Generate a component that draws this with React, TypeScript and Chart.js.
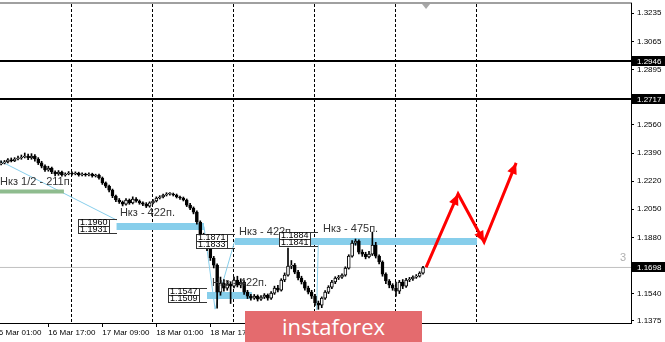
import React, { useEffect, useRef } from 'react';
import { Chart, registerables } from 'chart.js';
Chart.register(...registerables);

// ---- candle data (H1 bars, index 0 = 16 Mar 00:00) ----
const FIRST_IDX = 3;
const OPEN = [
  1.2324, 1.2330, 1.2336, 1.2348, 1.2342, 1.2354, 1.2360, 1.2366, 1.2372, 1.2360,
  1.2372, 1.2354, 1.2330, 1.2311, 1.2287, 1.2299, 1.2275, 1.2263, 1.2275, 1.2257,
  1.2263, 1.2269, 1.2263, 1.2269, 1.2257, 1.2263, 1.2257, 1.2263, 1.2251, 1.2257,
  1.2239, 1.2209, 1.2190, 1.2166, 1.2130, 1.2106, 1.2094, 1.2081, 1.2106, 1.2088,
  1.2112, 1.2100, 1.2088, 1.2081, 1.2069, 1.2088, 1.2100, 1.2118, 1.2124, 1.2136,
  1.2142, 1.2142, 1.2136, 1.2124, 1.2118, 1.2106, 1.2075, 1.2057, 1.2033, 1.1973,
  1.1894, 1.1852, 1.1815, 1.1755, 1.1712, 1.1549, 1.1604, 1.1573, 1.1597, 1.1585,
  1.1622, 1.1591, 1.1610, 1.1549, 1.1525, 1.1513, 1.1525, 1.1507, 1.1519, 1.1531,
  1.1513, 1.1543, 1.1573, 1.1561, 1.1622, 1.1652, 1.1706, 1.1712, 1.1670, 1.1634,
  1.1610, 1.1573, 1.1549, 1.1525, 1.1483, 1.1470, 1.1513, 1.1549, 1.1579, 1.1610,
  1.1634, 1.1640, 1.1652, 1.1694, 1.1767, 1.1845, 1.1858, 1.1791, 1.1779, 1.1761,
  1.1779, 1.1833, 1.1767, 1.1731, 1.1658, 1.1616, 1.1591, 1.1573, 1.1555, 1.1610,
  1.1585, 1.1622, 1.1628, 1.1640, 1.1646, 1.1664,
];
const CLOSE = [
  1.2330, 1.2336, 1.2348, 1.2342, 1.2354, 1.2360, 1.2366, 1.2372, 1.2360, 1.2372,
  1.2354, 1.2330, 1.2311, 1.2287, 1.2299, 1.2275, 1.2263, 1.2275, 1.2257, 1.2263,
  1.2269, 1.2263, 1.2269, 1.2257, 1.2263, 1.2257, 1.2263, 1.2251, 1.2257, 1.2239,
  1.2209, 1.2190, 1.2166, 1.2130, 1.2106, 1.2094, 1.2081, 1.2106, 1.2088, 1.2112,
  1.2100, 1.2088, 1.2081, 1.2069, 1.2088, 1.2100, 1.2118, 1.2124, 1.2136, 1.2142,
  1.2142, 1.2136, 1.2124, 1.2118, 1.2106, 1.2075, 1.2057, 1.2033, 1.1973, 1.1894,
  1.1852, 1.1815, 1.1755, 1.1712, 1.1549, 1.1604, 1.1573, 1.1597, 1.1585, 1.1622,
  1.1591, 1.1610, 1.1549, 1.1525, 1.1513, 1.1525, 1.1507, 1.1519, 1.1531, 1.1513,
  1.1543, 1.1573, 1.1561, 1.1622, 1.1652, 1.1706, 1.1712, 1.1670, 1.1634, 1.1610,
  1.1573, 1.1549, 1.1525, 1.1483, 1.1470, 1.1513, 1.1549, 1.1579, 1.1610, 1.1634,
  1.1640, 1.1652, 1.1694, 1.1767, 1.1845, 1.1858, 1.1791, 1.1779, 1.1761, 1.1779,
  1.1833, 1.1767, 1.1731, 1.1658, 1.1616, 1.1591, 1.1573, 1.1555, 1.1610, 1.1585,
  1.1622, 1.1628, 1.1640, 1.1646, 1.1664, 1.1698,
];
const HIGH = [
  1.2342, 1.2345, 1.2356, 1.2360, 1.2362, 1.2372, 1.2378, 1.2390, 1.2384, 1.2386,
  1.2380, 1.2362, 1.2340, 1.2318, 1.2310, 1.2305, 1.2282, 1.2284, 1.2280, 1.2270,
  1.2278, 1.2276, 1.2276, 1.2274, 1.2270, 1.2268, 1.2270, 1.2268, 1.2262, 1.2262,
  1.2245, 1.2215, 1.2196, 1.2172, 1.2136, 1.2115, 1.2100, 1.2115, 1.2112, 1.2125,
  1.2120, 1.2106, 1.2095, 1.2090, 1.2095, 1.2108, 1.2125, 1.2132, 1.2142, 1.2150,
  1.2150, 1.2148, 1.2142, 1.2130, 1.2124, 1.2112, 1.2085, 1.2064, 1.2040, 1.1980,
  1.1905, 1.1862, 1.1822, 1.1765, 1.1720, 1.1640, 1.1625, 1.1615, 1.1612, 1.1640,
  1.1645, 1.1630, 1.1618, 1.1560, 1.1535, 1.1535, 1.1532, 1.1528, 1.1540, 1.1538,
  1.1552, 1.1585, 1.1590, 1.1630, 1.1665, 1.1815, 1.1740, 1.1722, 1.1680, 1.1645,
  1.1618, 1.1585, 1.1560, 1.1535, 1.1495, 1.1520, 1.1558, 1.1588, 1.1620, 1.1642,
  1.1650, 1.1660, 1.1702, 1.1775, 1.1860, 1.1870, 1.1865, 1.1805, 1.1790, 1.1795,
  1.1912, 1.1850, 1.1775, 1.1738, 1.1665, 1.1625, 1.1600, 1.1610, 1.1620, 1.1625,
  1.1632, 1.1638, 1.1648, 1.1655, 1.1672, 1.1705,
];
const LOW = [
  1.2318, 1.2324, 1.2330, 1.2336, 1.2338, 1.2348, 1.2352, 1.2360, 1.2350, 1.2352,
  1.2340, 1.2320, 1.2300, 1.2278, 1.2280, 1.2265, 1.2252, 1.2255, 1.2250, 1.2250,
  1.2258, 1.2256, 1.2258, 1.2250, 1.2252, 1.2250, 1.2252, 1.2244, 1.2245, 1.2232,
  1.2200, 1.2180, 1.2155, 1.2120, 1.2095, 1.2085, 1.2070, 1.2075, 1.2080, 1.2082,
  1.2092, 1.2080, 1.2072, 1.2060, 1.2062, 1.2082, 1.2094, 1.2112, 1.2118, 1.2130,
  1.2135, 1.2130, 1.2118, 1.2110, 1.2100, 1.2066, 1.2048, 1.2022, 1.1960, 1.1880,
  1.1838, 1.1800, 1.1740, 1.1695, 1.1452, 1.1530, 1.1555, 1.1560, 1.1480, 1.1575,
  1.1580, 1.1575, 1.1535, 1.1510, 1.1500, 1.1505, 1.1495, 1.1498, 1.1510, 1.1500,
  1.1505, 1.1535, 1.1550, 1.1555, 1.1612, 1.1645, 1.1690, 1.1660, 1.1622, 1.1598,
  1.1560, 1.1538, 1.1510, 1.1468, 1.1445, 1.1455, 1.1505, 1.1540, 1.1570, 1.1600,
  1.1625, 1.1632, 1.1645, 1.1688, 1.1760, 1.1832, 1.1780, 1.1765, 1.1750, 1.1755,
  1.1770, 1.1755, 1.1720, 1.1645, 1.1600, 1.1575, 1.1560, 1.1525, 1.1540, 1.1570,
  1.1578, 1.1612, 1.1620, 1.1632, 1.1640, 1.1658,
];

// ---- axes ----
const X_MIN = 2.667;
const X_MAX = 189.63;
const Y_MIN = 1.13622;
const Y_MAX = 1.32969;
const Y_TICKS = [1.3235, 1.3065, 1.2895, 1.256, 1.239, 1.222, 1.205, 1.188, 1.154, 1.1375];
const TIME_TICK_IDX = [1, 17, 33, 49, 65, 81, 97, 113];
const TIME_TICK_LABELS = ['16 Mar 01:00', '16 Mar 17:00', '17 Mar 09:00', '18 Mar 01:00', '18 Mar 17:00', '19 Mar 09:00', '20 Mar 01:00', '20 Mar 17:00'];
const DAY_IDX = [24, 48, 72, 96, 120, 144];

// ---- levels & objects ----
const LEVEL_PRICES = [1.2946, 1.2717];
const LAST_PRICE = 1.1698;
const SHIFT_IDX = 128.9;

const ZONE_START = [37.2, 72.3, 64.0];
const ZONE_END = [63.1, 144.0, 77.3];
const ZONE_PRICE = [1.1946, 1.1855, 1.1528];
const HALF_ZONE_START = 2.667;
const HALF_ZONE_END = 21.6;
const HALF_ZONE_PRICE = 1.2157;

const LABEL_TEXT = ['Нкз 1/2 - 211п.', 'Нкз - 422п.', 'Нкз - 422п.', 'Нкз - 475п.', 'Нкз - 422п.'];
const LABEL_IDX = [2.7, 38.2, 73.5, 98.4, 65.5];
const LABEL_PRICE = [1.2215, 1.2027, 1.1914, 1.193, 1.1602];

const BOX_ANCHOR = [37.2, 72.3, 96.9, 64.0];
const BOX_HI = [1.196, 1.1871, 1.1884, 1.1547];
const BOX_LO = [1.1931, 1.1833, 1.1841, 1.1509];

const THIN1_IDX = [2.667, 37.2];
const THIN1_PRICE = [1.2342, 1.1985];
const THIN2_IDX = [63.1, 66.4, 72.3];
const THIN2_PRICE = [1.1946, 1.1446, 1.1864];
const THIN3_IDX = [96.5, 97.0];
const THIN3_PRICE = [1.144, 1.1858];

const ARROW_IDX = [128.9, 138.4, 146.1, 155.6];
const ARROW_PRICE = [1.1698, 1.2142, 1.1852, 1.233];

const FONT = '"Liberation Sans", Arial, sans-serif';
const ZONE_COLOR = '#87ceeb';

export default function App() {
  const ref = useRef<HTMLCanvasElement | null>(null);

  useEffect(() => {
    const canvas = ref.current;
    if (!canvas) return;

    const wick = CLOSE.map((_, i) => ({ x: FIRST_IDX + i, y: [LOW[i], HIGH[i]] }));
    const body = CLOSE.map((c, i) => ({ x: FIRST_IDX + i, y: [OPEN[i], c] }));
    const bodyColors = CLOSE.map((c, i) => (c >= OPEN[i] ? '#ffffff' : '#000000'));

    const pts = (xs: number[], ys: number[]) => xs.map((x, i) => ({ x, y: ys[i] }));
    const lineDs = (data: any[], color: string, width: number, order: number) => ({
      type: 'line' as const,
      data,
      borderColor: color,
      borderWidth: width,
      pointRadius: 0,
      borderCapStyle: 'butt',
      fill: false,
      tension: 0,
      order,
    });

    const datasets: any[] = [];
    LEVEL_PRICES.forEach((p) => datasets.push(lineDs(pts([X_MIN, X_MAX], [p, p]), '#000', 2, 6)));
    datasets.push(lineDs(pts([X_MIN, X_MAX], [LAST_PRICE, LAST_PRICE]), '#c0c0c0', 1, 6));
    datasets.push(lineDs(pts(THIN1_IDX, THIN1_PRICE), ZONE_COLOR, 1, 5));
    datasets.push(lineDs(pts(THIN2_IDX, THIN2_PRICE), ZONE_COLOR, 1, 5));
    datasets.push(lineDs(pts(THIN3_IDX, THIN3_PRICE), ZONE_COLOR, 1, 5));
    datasets.push(lineDs(pts([HALF_ZONE_START, HALF_ZONE_END], [HALF_ZONE_PRICE, HALF_ZONE_PRICE]), '#8fbc8f', 4, 4));
    ZONE_PRICE.forEach((p, k) => datasets.push(lineDs(pts([ZONE_START[k], ZONE_END[k]], [p, p]), ZONE_COLOR, 7, 4)));
    datasets.push({
      type: 'bar',
      data: wick,
      backgroundColor: '#000',
      borderWidth: 0,
      barThickness: 1,
      grouped: false,
      order: 3,
    });
    datasets.push({
      type: 'bar',
      data: body,
      backgroundColor: bodyColors,
      borderColor: '#000',
      borderWidth: 1,
      borderSkipped: false,
      barThickness: 3,
      minBarLength: 1,
      grouped: false,
      order: 2,
    });
    const arrowIndex = datasets.length;
    datasets.push(lineDs(pts(ARROW_IDX, ARROW_PRICE), '#ff0000', 3, 0));

    const overlay = {
      id: 'overlay',
      afterDatasetsDraw(chart: any) {
        const { ctx, scales } = chart;
        const x = scales.x;
        const y = scales.y;
        ctx.save();
        // arrow heads
        const meta = chart.getDatasetMeta(arrowIndex);
        const ps = meta.data;
        ctx.fillStyle = '#ff0000';
        for (let i = 1; i < ps.length; i++) {
          const a = Math.atan2(ps[i].y - ps[i - 1].y, ps[i].x - ps[i - 1].x);
          const L = 11;
          const W = 5;
          const bx = ps[i].x - L * Math.cos(a);
          const by = ps[i].y - L * Math.sin(a);
          ctx.beginPath();
          ctx.moveTo(ps[i].x, ps[i].y);
          ctx.lineTo(bx - W * Math.sin(a), by + W * Math.cos(a));
          ctx.lineTo(bx + W * Math.sin(a), by - W * Math.cos(a));
          ctx.closePath();
          ctx.fill();
        }
        // zone labels
        ctx.font = `11px ${FONT}`;
        ctx.fillStyle = '#333';
        ctx.textBaseline = 'middle';
        ctx.textAlign = 'left';
        LABEL_TEXT.forEach((t, k) => {
          ctx.fillText(t, x.getPixelForValue(LABEL_IDX[k]), y.getPixelForValue(LABEL_PRICE[k]));
        });
        // price boxes
        ctx.font = `9px ${FONT}`;
        ctx.lineWidth = 1;
        BOX_ANCHOR.forEach((an, k) => {
          const ax = Math.round(x.getPixelForValue(an));
          const yh = y.getPixelForValue(BOX_HI[k]);
          const yl = y.getPixelForValue(BOX_LO[k]);
          const mid = Math.round((yh + yl) / 2 - 1);
          const right = ax - 8;
          const w = 31;
          const left = right - w;
          const top = mid - 7;
          ctx.fillStyle = '#fff';
          ctx.fillRect(left, top, w, 14);
          ctx.strokeStyle = '#333';
          ctx.strokeRect(left + 0.5, top + 0.5, w, 7);
          ctx.strokeRect(left + 0.5, top + 7.5, w, 7);
          ctx.beginPath();
          ctx.moveTo(right, top + 0.5);
          ctx.lineTo(ax, top + 0.5);
          ctx.moveTo(right, top + 14.5);
          ctx.lineTo(ax, top + 14.5);
          ctx.stroke();
          ctx.fillStyle = '#000';
          ctx.fillText(BOX_HI[k].toFixed(4), left + 2, top + 4);
          ctx.fillText(BOX_LO[k].toFixed(4), left + 2, top + 11);
        });
        ctx.restore();
      },
      afterDraw(chart: any) {
        const { ctx, scales, chartArea } = chart;
        const x = scales.x;
        const y = scales.y;
        ctx.save();
        // axis price boxes
        ctx.font = `8px ${FONT}`;
        ctx.textBaseline = 'middle';
        ctx.textAlign = 'left';
        [...LEVEL_PRICES, LAST_PRICE].forEach((p) => {
          const py = Math.round(y.getPixelForValue(p));
          ctx.fillStyle = '#000';
          ctx.fillRect(chartArea.right + 1, py - 5, 33, 10);
          ctx.fillStyle = '#fff';
          ctx.fillText(p.toFixed(4), chartArea.right + 6, py + 0.5);
        });
        // small "3"
        ctx.font = `11px ${FONT}`;
        ctx.fillStyle = '#b0b0b0';
        ctx.textAlign = 'right';
        ctx.fillText('3', chartArea.right - 5, y.getPixelForValue(LAST_PRICE) - 9);
        // shift marker
        const sx = x.getPixelForValue(SHIFT_IDX);
        ctx.fillStyle = '#a8a8a8';
        ctx.beginPath();
        ctx.moveTo(sx - 4, chartArea.top + 1);
        ctx.lineTo(sx + 4, chartArea.top + 1);
        ctx.lineTo(sx, chartArea.top + 6);
        ctx.closePath();
        ctx.fill();
        ctx.restore();
      },
    };

    const chart = new Chart(canvas, {
      type: 'bar',
      data: { datasets },
      options: {
        responsive: false,
        animation: false,
        devicePixelRatio: 1,
        layout: { padding: { left: 0, right: 0, top: 3, bottom: 0 } },
        plugins: { legend: { display: false }, tooltip: { enabled: false } },
        scales: {
          x: {
            type: 'linear',
            position: 'bottom',
            min: X_MIN,
            max: X_MAX,
            offset: false,
            afterBuildTicks: (s: any) => {
              s.ticks = TIME_TICK_IDX.map((v) => ({ value: v }));
            },
            afterFit: (s: any) => {
              s.height = 19;
              s.paddingLeft = 0;
              s.paddingRight = 0;
            },
            ticks: {
              autoSkip: false,
              maxRotation: 0,
              align: 'start',
              padding: 1,
              color: '#000',
              font: { family: FONT, size: 8 },
              callback: (v: any) => {
                const k = TIME_TICK_IDX.indexOf(Number(v));
                return k >= 0 ? TIME_TICK_LABELS[k] : '';
              },
            },
            grid: { offset: false, drawOnChartArea: false, drawTicks: true, tickLength: 4, color: '#000' },
            border: { display: true, color: '#000', width: 1 },
          },
          x2: {
            type: 'linear',
            position: 'top',
            min: X_MIN,
            max: X_MAX,
            offset: false,
            afterBuildTicks: (s: any) => {
              s.ticks = DAY_IDX.map((v) => ({ value: v }));
            },
            afterFit: (s: any) => {
              s.height = 0;
              s.paddingLeft = 0;
              s.paddingRight = 0;
            },
            ticks: { display: false },
            grid: { offset: false, drawOnChartArea: true, drawTicks: false, color: '#000', lineWidth: 1 },
            border: { display: true, color: '#a0a0a0', width: 2, dash: [3, 2] },
          },
          y: {
            type: 'linear',
            position: 'right',
            min: Y_MIN,
            max: Y_MAX,
            afterBuildTicks: (s: any) => {
              s.ticks = Y_TICKS.map((v) => ({ value: v }));
            },
            afterFit: (s: any) => {
              s.width = 34;
              s.paddingTop = 0;
              s.paddingBottom = 0;
            },
            ticks: {
              padding: 3,
              color: '#000',
              font: { family: FONT, size: 8 },
              callback: (v: any) => Number(v).toFixed(4),
            },
            grid: { drawOnChartArea: false, drawTicks: true, tickLength: 3, color: '#000' },
            border: { display: true, color: '#000', width: 1 },
          },
        },
      },
      plugins: [overlay],
    } as any);

    return () => chart.destroy();
  }, []);

  return (
    <div style={{ position: 'fixed', left: 0, top: 0, width: 665, height: 342, background: '#fff' }}>
      <canvas ref={ref} width={665} height={342} style={{ display: 'block' }} />
      <div
        style={{
          position: 'absolute',
          left: 245,
          top: 311,
          width: 177,
          height: 31,
          background: '#e46b6e',
          color: '#fff',
          fontFamily: '"Open Sans", sans-serif',
          fontSize: 22,
          lineHeight: '30px',
          textAlign: 'center',
        }}
      >
        instaforex
      </div>
    </div>
  );
}
